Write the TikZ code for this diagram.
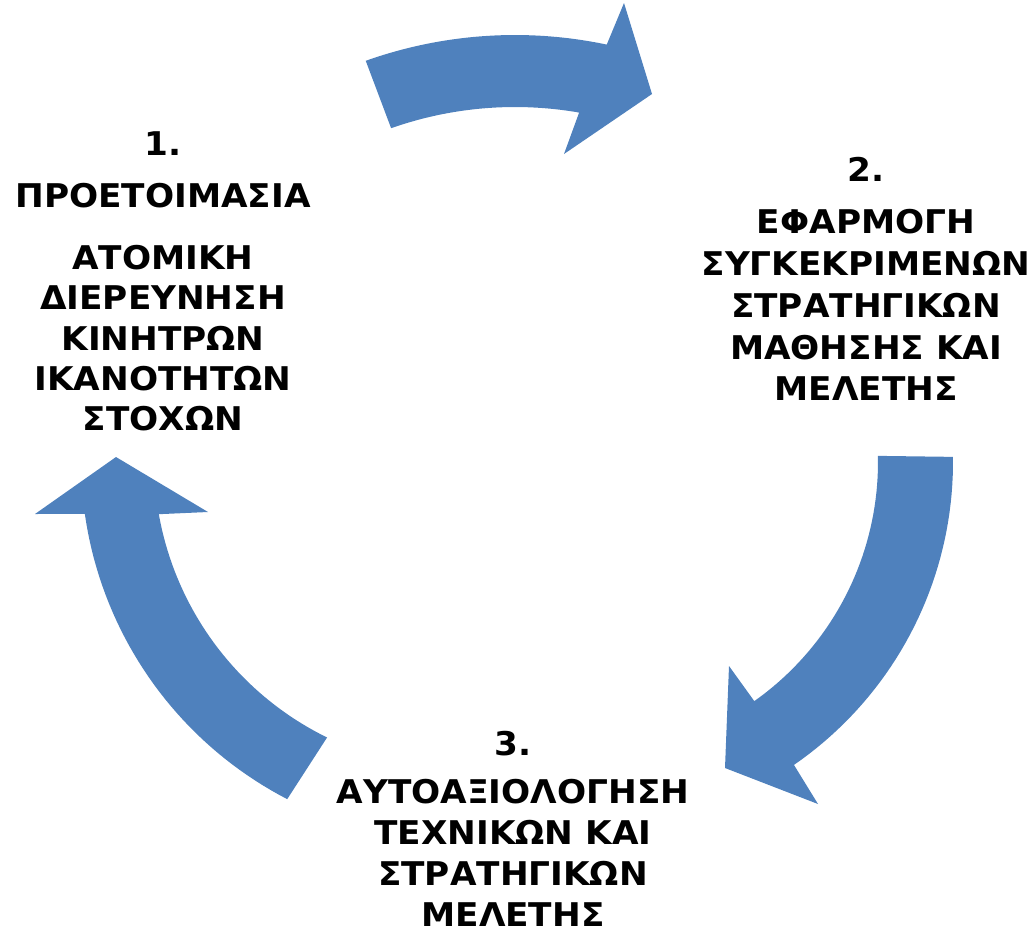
\documentclass[tikz,border=0pt]{standalone}
\usepackage{fontspec}
\setmainfont[FakeStretch=1.05]{DejaVu Sans}
\begin{document}
\begin{tikzpicture}[x=0.75pt,y=-0.75pt]
\definecolor{arrowblue}{RGB}{79,129,189}
\tikzset{
  arrowshape/.style={fill=arrowblue, draw=none},
  lbl/.style={align=center, inner sep=0pt, anchor=north, text=black},
}
\useasboundingbox (0,0) rectangle (1031,936);
% top arrow (1 -> 2)
\fill[arrowshape]
  plot[domain=-109.6:-78.1, samples=40, variable=\t] ({515+445*cos(\t)},{480+445*sin(\t)})
  -- (624,3) -- (652,94) -- (564,154)
  -- plot[domain=-80.1:-109.4, samples=40, variable=\t] ({515+373*cos(\t)},{480+373*sin(\t)})
  -- cycle;
% right arrow (2 -> 3)
\fill[arrowshape]
  plot[domain=-0.8:55.4, samples=40, variable=\t] ({585+368*cos(\t)},{462+368*sin(\t)})
  -- (818,804) -- (725,768) -- (729,666)
  -- plot[domain=54.7:-1.2, samples=40, variable=\t] ({585+293*cos(\t)},{462+293*sin(\t)})
  -- cycle;
% left arrow (3 -> 1)
\fill[arrowshape]
  plot[domain=117.4:171.9, samples=40, variable=\t] ({463+382*cos(\t)},{460+382*sin(\t)})
  -- (35,514) -- (116,457) -- (208,512)
  -- plot[domain=169.9:116.1, samples=40, variable=\t] ({463+309*cos(\t)},{460+309*sin(\t)})
  -- cycle;
% labels
\node[lbl, font=\bfseries\fontsize{24.5}{30.2}\selectfont] (t1) at (163,131)
  {1.\\[9pt] ΠΡΟΕΤΟΙΜΑΣΙΑ\\[16.5pt] ΑΤΟΜΙΚΗ\\ ΔΙΕΡΕΥΝΗΣΗ\\ ΚΙΝΗΤΡΩΝ\\ ΙΚΑΝΟΤΗΤΩΝ\\ ΣΤΟΧΩΝ};
\node[lbl, font=\bfseries\fontsize{24.5}{31.3}\selectfont] (t2) at (866,157)
  {2.\\[8pt] ΕΦΑΡΜΟΓΗ\\ ΣΥΓΚΕΚΡΙΜΕΝΩΝ\\ ΣΤΡΑΤΗΓΙΚΩΝ\\ ΜΑΘΗΣΗΣ ΚΑΙ\\ ΜΕΛΕΤΗΣ};
\node[lbl, font=\bfseries\fontsize{24.5}{30.75}\selectfont] (t3) at (513,731)
  {3.\\[5pt] ΑΥΤΟΑΞΙΟΛΟΓΗΣΗ\\ ΤΕΧΝΙΚΩΝ ΚΑΙ\\ ΣΤΡΑΤΗΓΙΚΩΝ\\ ΜΕΛΕΤΗΣ};
\end{tikzpicture}
\end{document}
